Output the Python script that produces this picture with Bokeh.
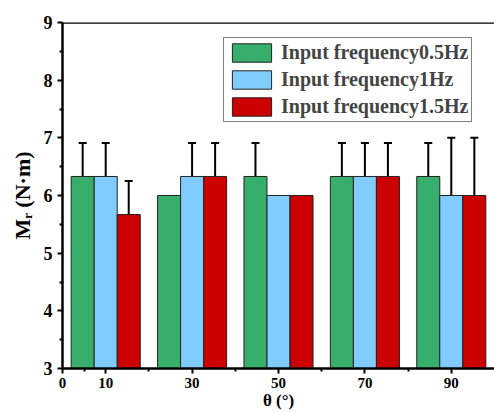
from bokeh.plotting import figure
from bokeh.models import (FixedTicker, Span, Legend, LegendItem, ColumnDataSource,
                          Whisker, TeeHead, Range1d)
from bokeh.embed import file_html
from bokeh.resources import INLINE

# ---- data ----
theta = [10, 30, 50, 70, 90]
series_names = ["Input frequency0.5Hz", "Input frequency1Hz", "Input frequency1.5Hz"]
f05 = [6.33, 6.0, 6.33, 6.33, 6.33]
err05 = [0.58, 0.0, 0.58, 0.58, 0.58]
f1 = [6.33, 6.33, 6.0, 6.33, 6.0]
err1 = [0.58, 0.58, 0.0, 0.58, 1.0]
f15 = [5.67, 6.33, 6.0, 6.33, 6.0]
err15 = [0.58, 0.58, 0.0, 0.58, 1.0]
x_ticks = [0, 10, 30, 50, 70, 90]
x_minor = [5, 20, 40, 60, 80]
y_ticks = [3, 4, 5, 6, 7, 8, 9]
y_minor = [3.5, 4.5, 5.5, 6.5, 7.5, 8.5]
x_title = "θ (°)"
y_title = "Mᵣ (N·m)"

colors = ["#38ae6c", "#80ccff", "#cc0000"]
FONT = "Liberation Serif"
bar_w = 5.33
offsets = [-bar_w, 0.0, bar_w]

p = figure(width=494, height=412, x_range=Range1d(0, 100), y_range=Range1d(3, 9),
           output_backend="svg", toolbar_location=None,
           min_border_left=62, min_border_right=0, min_border_top=22, min_border_bottom=40)
p.outline_line_color = None
p.xgrid.visible = False
p.ygrid.visible = False
p.background_fill_color = "white"
p.border_fill_color = "white"

renderers = []
for vals, errs, off, col in zip([f05, f1, f15], [err05, err1, err15], offsets, colors):
    xs = [t + off for t in theta]
    src = ColumnDataSource(dict(x=xs, top=vals))
    r = p.vbar(x="x", top="top", bottom=0, width=bar_w, source=src,
               fill_color=col, line_color="#222222", line_width=1)
    renderers.append(r)
    ex = [x for x, e in zip(xs, errs) if e > 0]
    up = [v + e for v, e in zip(vals, errs) if e > 0]
    lo = [v - e for v, e in zip(vals, errs) if e > 0]
    esrc = ColumnDataSource(dict(base=ex, upper=up, lower=lo))
    w = Whisker(base="base", upper="upper", lower="lower", source=esrc,
                line_color="black", line_width=2,
                upper_head=TeeHead(size=8, line_width=2, line_color="black"),
                lower_head=TeeHead(size=8, line_width=2, line_color="black"))
    p.add_layout(w)

# axes
for ax in (p.xaxis[0], p.yaxis[0]):
    ax.axis_line_width = 2.5
    ax.axis_line_color = "black"
    ax.major_tick_line_width = 2
    ax.minor_tick_line_width = 2
    ax.major_tick_in = 0
    ax.major_tick_out = 5
    ax.minor_tick_in = 0
    ax.minor_tick_out = 3
    ax.major_label_text_font = FONT
    ax.major_label_text_font_style = "bold"
    ax.major_label_text_color = "black"
    ax.axis_label_text_font = FONT
    ax.axis_label_text_font_style = "bold"
    ax.axis_label_text_color = "black"

p.xaxis.ticker = FixedTicker(ticks=x_ticks, minor_ticks=x_minor)
p.yaxis.ticker = FixedTicker(ticks=y_ticks, minor_ticks=y_minor)
p.xaxis.major_label_text_font_size = "15px"
p.yaxis.major_label_text_font_size = "18px"
p.xaxis.major_label_standoff = 4
p.yaxis.major_label_standoff = 5
p.xaxis.axis_label = x_title
p.yaxis.axis_label = y_title
p.xaxis.axis_label_text_font_size = "17px"
p.yaxis.axis_label_text_font_size = "22px"
p.xaxis.axis_label_standoff = 0
p.yaxis.axis_label_standoff = 6

p.add_layout(Span(location=9, dimension="width", line_color="black", line_width=2.5))

legend = Legend(items=[LegendItem(label=n, renderers=[r]) for n, r in zip(series_names, renderers)],
                location=(161, 246))
legend.glyph_width = 49
legend.glyph_height = 23
legend.label_height = 23
legend.spacing = 4
legend.padding = 3
legend.margin = 0
legend.label_standoff = 5
legend.label_text_font = FONT
legend.label_text_font_style = "bold"
legend.label_text_font_size = "20px"
legend.border_line_color = "black"
legend.border_line_width = 1.5
legend.background_fill_alpha = 1
p.add_layout(legend)

open("out.html", "w").write(file_html(p, INLINE))
